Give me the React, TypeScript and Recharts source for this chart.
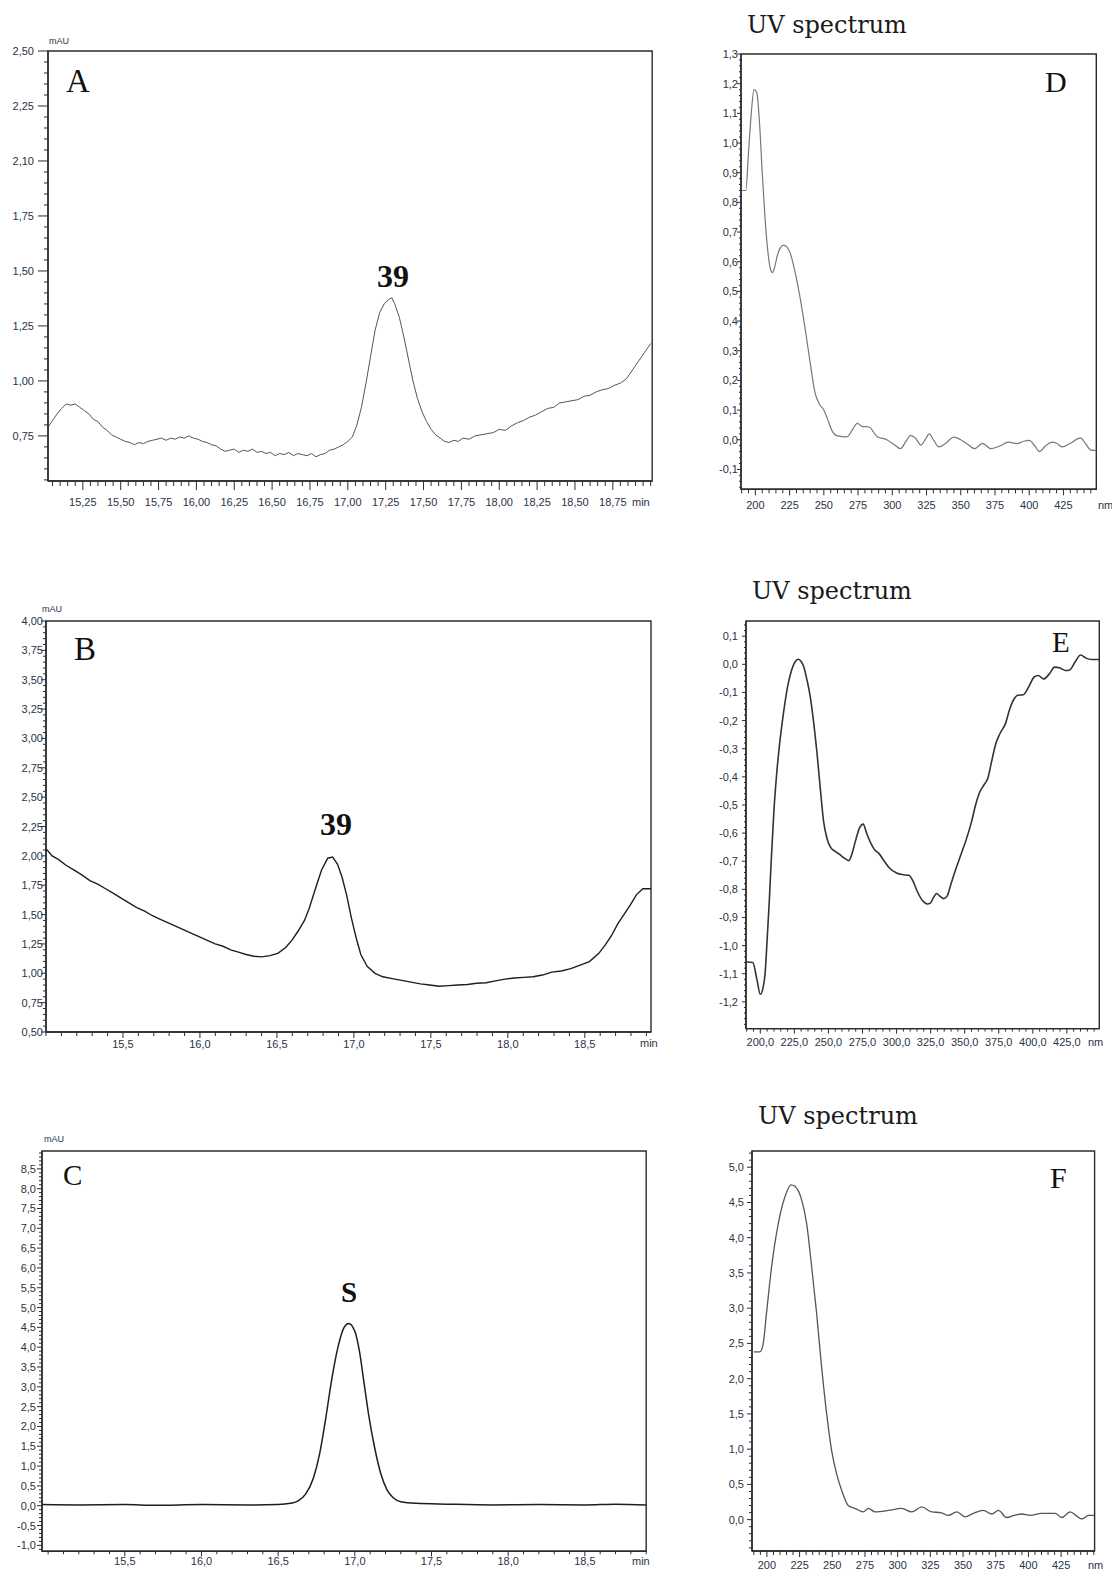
import React from 'react';
import { LineChart, Line, XAxis, YAxis, ReferenceArea } from 'recharts';

// chromatogram A: [time (min), mAU]
const chromA: [number, number][] = [
  [15.02, 0.79], [15.05, 0.82], [15.08, 0.85], [15.11, 0.875], [15.14, 0.895], [15.17, 0.89], [15.2, 0.895],
  [15.23, 0.88], [15.26, 0.865], [15.29, 0.85], [15.32, 0.825], [15.35, 0.815], [15.38, 0.79], [15.41, 0.775],
  [15.44, 0.755], [15.47, 0.745], [15.5, 0.735], [15.53, 0.725], [15.56, 0.72], [15.59, 0.71], [15.62, 0.72],
  [15.65, 0.715], [15.68, 0.725], [15.71, 0.73], [15.74, 0.735], [15.77, 0.74], [15.8, 0.73], [15.83, 0.74],
  [15.86, 0.735], [15.89, 0.745], [15.92, 0.74], [15.95, 0.75], [15.98, 0.74], [16.01, 0.735], [16.04, 0.725],
  [16.07, 0.72], [16.1, 0.71], [16.13, 0.705], [16.16, 0.69], [16.19, 0.68], [16.22, 0.685], [16.25, 0.69],
  [16.28, 0.675], [16.31, 0.685], [16.34, 0.68], [16.37, 0.69], [16.4, 0.675], [16.43, 0.68], [16.46, 0.67],
  [16.49, 0.675], [16.52, 0.66], [16.55, 0.67], [16.58, 0.665], [16.61, 0.675], [16.64, 0.66], [16.67, 0.67],
  [16.7, 0.665], [16.73, 0.66], [16.76, 0.67], [16.79, 0.655], [16.82, 0.665], [16.85, 0.67], [16.88, 0.685],
  [16.91, 0.69], [16.94, 0.7], [16.97, 0.71], [17.0, 0.725], [17.03, 0.745], [17.06, 0.8], [17.09, 0.88],
  [17.12, 0.99], [17.15, 1.11], [17.18, 1.23], [17.21, 1.31], [17.24, 1.35], [17.27, 1.37], [17.29, 1.378],
  [17.31, 1.35], [17.34, 1.29], [17.37, 1.2], [17.4, 1.1], [17.43, 1.0], [17.46, 0.92], [17.49, 0.86],
  [17.52, 0.815], [17.55, 0.78], [17.58, 0.755], [17.61, 0.74], [17.64, 0.725], [17.67, 0.72], [17.7, 0.73],
  [17.73, 0.725], [17.76, 0.74], [17.8, 0.735], [17.84, 0.75], [17.88, 0.755], [17.92, 0.76], [17.96, 0.765],
  [18.0, 0.78], [18.04, 0.775], [18.08, 0.795], [18.12, 0.81], [18.16, 0.82], [18.2, 0.835], [18.24, 0.845],
  [18.28, 0.86], [18.32, 0.875], [18.36, 0.88], [18.4, 0.9], [18.44, 0.905], [18.48, 0.91], [18.52, 0.915],
  [18.56, 0.93], [18.6, 0.935], [18.64, 0.95], [18.68, 0.96], [18.72, 0.965], [18.76, 0.98], [18.8, 0.99],
  [18.84, 1.01], [18.88, 1.05], [18.92, 1.09], [18.96, 1.13], [19.0, 1.17],
];

const chromB: [number, number][] = [
  [15.0, 2.06], [15.04, 2.0], [15.08, 1.97], [15.13, 1.92], [15.18, 1.88], [15.23, 1.84], [15.285, 1.79],
  [15.336, 1.76], [15.387, 1.72], [15.438, 1.68], [15.488, 1.64], [15.539, 1.6], [15.59, 1.56], [15.641, 1.53],
  [15.692, 1.49], [15.743, 1.46], [15.794, 1.43], [15.845, 1.4], [15.895, 1.37], [15.946, 1.34], [15.997, 1.31],
  [16.048, 1.28], [16.099, 1.25], [16.15, 1.23], [16.2, 1.2], [16.25, 1.18], [16.3, 1.16], [16.35, 1.145],
  [16.4, 1.14], [16.455, 1.15], [16.506, 1.17], [16.557, 1.22], [16.597, 1.28], [16.638, 1.36], [16.679, 1.45],
  [16.709, 1.55], [16.75, 1.72], [16.79, 1.88], [16.83, 1.98], [16.862, 1.99], [16.893, 1.93], [16.923, 1.82],
  [16.954, 1.66], [16.984, 1.47], [17.015, 1.3], [17.045, 1.16], [17.086, 1.06], [17.137, 1.0], [17.188, 0.97],
  [17.249, 0.955], [17.31, 0.94], [17.371, 0.925], [17.432, 0.91], [17.493, 0.9], [17.554, 0.89], [17.615, 0.895],
  [17.676, 0.9], [17.737, 0.905], [17.798, 0.915], [17.859, 0.92], [17.92, 0.935], [17.981, 0.95], [18.042, 0.96],
  [18.103, 0.965], [18.164, 0.97], [18.225, 0.985], [18.286, 1.01], [18.347, 1.02], [18.409, 1.04], [18.47, 1.07],
  [18.53, 1.1], [18.591, 1.17], [18.632, 1.24], [18.673, 1.32], [18.714, 1.42], [18.754, 1.5], [18.795, 1.58],
  [18.836, 1.67], [18.877, 1.72], [18.93, 1.72],
];

const chromC: [number, number][] = [
  [14.96, 0.03], [15.2, 0.02], [15.5, 0.03], [15.7, 0.01], [16.0, 0.03], [16.3, 0.02], [16.5, 0.03],
  [16.58, 0.06], [16.63, 0.12], [16.68, 0.3], [16.73, 0.7], [16.77, 1.3], [16.81, 2.2], [16.85, 3.2],
  [16.89, 4.0], [16.93, 4.5], [16.96, 4.6], [17.0, 4.4], [17.03, 3.9], [17.06, 3.1], [17.09, 2.3],
  [17.13, 1.45], [17.17, 0.8], [17.21, 0.4], [17.25, 0.2], [17.3, 0.1], [17.4, 0.06], [17.6, 0.04],
  [17.9, 0.02], [18.2, 0.03], [18.5, 0.02], [18.7, 0.04], [18.9, 0.02],
];

// UV spectra: [wavelength (nm), absorbance]
const specD: [number, number][] = [
  [190, 0.84], [193, 0.84], [195, 0.97], [197, 1.1], [199, 1.18], [201, 1.17], [203, 1.07], [205, 0.9],
  [207, 0.75], [209, 0.64], [211, 0.575], [212.5, 0.563], [214, 0.58], [216, 0.62], [218, 0.645],
  [220.5, 0.656], [223, 0.65], [225.5, 0.628], [229, 0.565], [233, 0.47], [236.5, 0.37], [240, 0.26],
  [243.5, 0.16], [246.5, 0.122], [250, 0.1], [252.5, 0.072], [256, 0.03], [260, 0.013], [267, 0.01],
  [271, 0.035], [274.5, 0.055], [278, 0.045], [283, 0.043], [289, 0.01], [296, 0.0], [301, -0.015],
  [306, -0.03], [310, -0.005], [313.5, 0.015], [317, 0.005], [321, -0.018], [324, 0.0], [327, 0.02],
  [330, 0.0], [334, -0.024], [339, -0.012], [345, 0.009], [350, 0.0], [355, -0.015], [360, -0.03],
  [366, -0.012], [372, -0.03], [378, -0.022], [385, -0.008], [391, -0.013], [396, -0.005], [400, -0.002],
  [404, -0.02], [407.5, -0.04], [412, -0.02], [417, -0.008], [420, -0.012], [424, -0.024], [430, -0.012],
  [437.5, 0.006], [441, -0.012], [445, -0.035], [449.5, -0.037],
];

const specE: [number, number][] = [
  [190, -1.058], [194.5, -1.06], [197.5, -1.12], [200, -1.173], [202, -1.15], [203.5, -1.1], [205, -0.98],
  [206.5, -0.85], [208, -0.7], [210, -0.52], [212, -0.39], [214, -0.29], [216, -0.21], [218, -0.14],
  [220, -0.08], [223, -0.02], [226, 0.012], [228, 0.018], [230, 0.01], [232, -0.01], [234, -0.05],
  [236.5, -0.11], [239, -0.2], [241.5, -0.31], [244, -0.44], [246.5, -0.56], [249, -0.62], [251.5, -0.65],
  [255, -0.665], [258, -0.675], [262, -0.69], [265, -0.698], [267.5, -0.67], [270, -0.625], [273, -0.58],
  [275.5, -0.568], [278, -0.6], [281, -0.635], [284, -0.66], [287, -0.672], [291, -0.7], [295, -0.725],
  [300, -0.742], [305, -0.748], [309, -0.75], [312, -0.77], [315, -0.805], [319, -0.84], [322.5, -0.852],
  [325, -0.848], [327, -0.83], [329.5, -0.815], [332, -0.825], [334.5, -0.833], [337, -0.825], [340, -0.78],
  [343, -0.735], [347, -0.68], [351, -0.625], [355, -0.56], [358, -0.5], [361, -0.455], [364, -0.43],
  [367, -0.405], [370, -0.34], [373, -0.28], [376, -0.245], [380, -0.21], [383, -0.16], [386, -0.125],
  [389, -0.11], [393, -0.108], [397, -0.08], [401, -0.045], [404, -0.04], [408, -0.052], [412, -0.035],
  [416, -0.01], [420, -0.013], [424, -0.022], [427, -0.02], [431, 0.008], [435, 0.033], [439, 0.022],
  [443, 0.017], [449, 0.017],
];

const specF: [number, number][] = [
  [190, 2.38], [194.6, 2.38], [197, 2.48], [199.7, 2.93], [203.6, 3.59], [208.7, 4.2], [213.8, 4.58],
  [218.4, 4.75], [221.4, 4.73], [226.5, 4.54], [230.4, 4.2], [234.2, 3.59], [238, 2.93], [241.8, 2.17],
  [245.7, 1.5], [249.5, 0.98], [253.3, 0.65], [257.1, 0.42], [262.2, 0.2], [267.3, 0.16], [273.7, 0.11],
  [277.6, 0.16], [282.7, 0.11], [292.9, 0.13], [303, 0.16], [310.7, 0.11], [318.4, 0.18], [326, 0.11],
  [333, 0.1], [338.8, 0.06], [345.2, 0.11], [351.5, 0.04], [358, 0.09], [365.6, 0.13], [372, 0.08],
  [377, 0.13], [383.4, 0.03], [389, 0.06], [394.9, 0.08], [401.3, 0.06], [410, 0.09], [420.4, 0.09],
  [425.5, 0.03], [431.9, 0.11], [437, 0.05], [440.8, 0.01], [446, 0.06], [450.6, 0.06],
];

// tick values and labels
const xTicksA = [15.25, 15.5, 15.75, 16.0, 16.25, 16.5, 16.75, 17.0, 17.25, 17.5, 17.75, 18.0, 18.25, 18.5, 18.75];
const xLabelsA = ['15,25', '15,50', '15,75', '16,00', '16,25', '16,50', '16,75', '17,00', '17,25', '17,50', '17,75', '18,00', '18,25', '18,50', '18,75'];
const yTicksA = [0.75, 1.0, 1.25, 1.5, 1.75, 2.0, 2.25, 2.5];
const yLabelsA = ['0,75', '1,00', '1,25', '1,50', '1,75', '2,10', '2,25', '2,50'];

const xTicksBC = [15.5, 16.0, 16.5, 17.0, 17.5, 18.0, 18.5];
const xLabelsBC = ['15,5', '16,0', '16,5', '17,0', '17,5', '18,0', '18,5'];
const yTicksB = [0.5, 0.75, 1.0, 1.25, 1.5, 1.75, 2.0, 2.25, 2.5, 2.75, 3.0, 3.25, 3.5, 3.75, 4.0];
const yLabelsB = ['0,50', '0,75', '1,00', '1,25', '1,50', '1,75', '2,00', '2,25', '2,50', '2,75', '3,00', '3,25', '3,50', '3,75', '4,00'];
const yTicksC = [-1.0, -0.5, 0, 0.5, 1.0, 1.5, 2.0, 2.5, 3.0, 3.5, 4.0, 4.5, 5.0, 5.5, 6.0, 6.5, 7.0, 7.5, 8.0, 8.5];
const yLabelsC = ['-1,0', '-0,5', '0,0', '0,5', '1,0', '1,5', '2,0', '2,5', '3,0', '3,5', '4,0', '4,5', '5,0', '5,5', '6,0', '6,5', '7,0', '7,5', '8,0', '8,5'];

const xTicksNm = [200, 225, 250, 275, 300, 325, 350, 375, 400, 425];
const xLabelsNm = ['200', '225', '250', '275', '300', '325', '350', '375', '400', '425'];
const xLabelsE = ['200,0', '225,0', '250,0', '275,0', '300,0', '325,0', '350,0', '375,0', '400,0', '425,0'];
const yTicksD = [-0.1, 0, 0.1, 0.2, 0.3, 0.4, 0.5, 0.6, 0.7, 0.8, 0.9, 1.0, 1.1, 1.2, 1.3];
const yLabelsD = ['-0,1', '0,0', '0,1', '0,2', '0,3', '0,4', '0,5', '0,6', '0,7', '0,8', '0,9', '1,0', '1,1', '1,2', '1,3'];
const yTicksE = [-1.2, -1.1, -1.0, -0.9, -0.8, -0.7, -0.6, -0.5, -0.4, -0.3, -0.2, -0.1, 0, 0.1];
const yLabelsE = ['-1,2', '-1,1', '-1,0', '-0,9', '-0,8', '-0,7', '-0,6', '-0,5', '-0,4', '-0,3', '-0,2', '-0,1', '0,0', '0,1'];
const yTicksF = [0, 0.5, 1.0, 1.5, 2.0, 2.5, 3.0, 3.5, 4.0, 4.5, 5.0];
const yLabelsF = ['0,0', '0,5', '1,0', '1,5', '2,0', '2,5', '3,0', '3,5', '4,0', '4,5', '5,0'];

const FRAME = '#2b2b2b';
const LABEL = '#2a3347';
const SANS = '"Liberation Sans", Arial, sans-serif';
const SERIF = '"Liberation Serif", "Times New Roman", serif';
const TITLE = '"DejaVu Serif", serif';

type PanelProps = {
  frame: [number, number, number, number];
  xDomain: [number, number];
  yDomain: [number, number];
  xTicks: number[];
  xLabels: string[];
  xMinor: number;
  yTicks: number[];
  yLabels: string[];
  yMinor: number;
  points: [number, number][];
  color: string;
  width: number;
  curve: 'linear' | 'monotone';
  xLabelDy: number;
  yLabelGap: number;
  xTickLen: [number, number];
  yTickLen: [number, number];
};

function tickGrid(domain: [number, number], step: number, major: number[]) {
  const out: number[] = [];
  const i0 = Math.ceil(domain[0] / step - 1e-6);
  const i1 = Math.floor(domain[1] / step + 1e-6);
  for (let i = i0; i <= i1; i++) out.push(Number((i * step).toFixed(6)));
  major.forEach((m) => {
    if (!out.some((v) => Math.abs(v - m) < 1e-6)) out.push(m);
  });
  return out.sort((a, b) => a - b);
}

const majorIndex = (ticks: number[], v: number) => ticks.findIndex((t) => Math.abs(t - v) < 1e-6);

function Panel(p: PanelProps) {
  const PL = 60;
  const PT = 10;
  const PR = 20;
  const PB = 36;
  const [x0, y0, x1, y1] = p.frame;
  const w = x1 - x0 + PL + PR;
  const h = y1 - y0 + PT + PB;
  const data = p.points.map(([x, y]) => ({ x, y }));

  const renderX = (props: any) => {
    const { x, y, payload } = props;
    const i = majorIndex(p.xTicks, payload.value);
    return (
      <g>
        <line x1={x} x2={x} y1={y} y2={y + (i >= 0 ? p.xTickLen[0] : p.xTickLen[1])} stroke={FRAME} strokeWidth={1} />
        {i >= 0 && (
          <text x={x} y={y + p.xLabelDy + 4} textAnchor="middle" fontSize={11} fontFamily={SANS} fill={LABEL}>
            {p.xLabels[i]}
          </text>
        )}
      </g>
    );
  };

  const renderY = (props: any) => {
    const { x, y, payload } = props;
    const i = majorIndex(p.yTicks, payload.value);
    return (
      <g>
        <line x1={x} x2={x - (i >= 0 ? p.yTickLen[0] : p.yTickLen[1])} y1={y} y2={y} stroke={FRAME} strokeWidth={1} />
        {i >= 0 && (
          <text x={x - p.yLabelGap} y={y + 4} textAnchor="end" fontSize={11} fontFamily={SANS} fill={LABEL}>
            {p.yLabels[i]}
          </text>
        )}
      </g>
    );
  };

  return (
    <div style={{ position: 'absolute', left: x0 - PL, top: y0 - PT }}>
      <LineChart width={w} height={h} data={data} margin={{ top: PT, right: PR, left: 0, bottom: 0 }}>
        <XAxis
          type="number"
          dataKey="x"
          domain={p.xDomain}
          allowDataOverflow
          ticks={tickGrid(p.xDomain, p.xMinor, p.xTicks)}
          interval={0}
          height={PB}
          tickSize={0}
          tickMargin={0}
          tickLine={false}
          axisLine={{ stroke: FRAME, strokeWidth: 1.4 }}
          tick={renderX}
        />
        <YAxis
          type="number"
          domain={p.yDomain}
          allowDataOverflow
          ticks={tickGrid(p.yDomain, p.yMinor, p.yTicks)}
          interval={0}
          width={PL}
          tickSize={0}
          tickMargin={0}
          tickLine={false}
          axisLine={{ stroke: FRAME, strokeWidth: 1.4 }}
          tick={renderY}
        />
        <ReferenceArea
          x1={p.xDomain[0]}
          x2={p.xDomain[1]}
          y1={p.yDomain[0]}
          y2={p.yDomain[1]}
          fill="none"
          fillOpacity={0}
          stroke={FRAME}
          strokeWidth={1.4}
        />
        <Line
          type={p.curve}
          dataKey="y"
          stroke={p.color}
          strokeWidth={p.width}
          dot={false}
          isAnimationActive={false}
        />
      </LineChart>
    </div>
  );
}

export default function App() {
  const small = { fontFamily: SANS, fontSize: 11, fill: LABEL };
  const tiny = { fontFamily: SANS, fontSize: 9, fill: LABEL };
  return (
    <div style={{ position: 'absolute', left: 0, top: 0, width: 1112, height: 1571, background: '#fff', overflow: 'hidden' }}>
      <Panel
        frame={[47.6, 50.7, 651.8, 480.7]}
        xDomain={[15.02, 19.01]}
        yDomain={[0.545, 2.5]}
        xTicks={xTicksA}
        xLabels={xLabelsA}
        xMinor={0.05}
        yTicks={yTicksA}
        yLabels={yLabelsA}
        yMinor={0.05}
        points={chromA}
        color="#555"
        width={1}
        curve="linear"
        xLabelDy={21}
        yLabelGap={14}
        xTickLen={[9, 5]}
        yTickLen={[10, 4]}
      />
      <Panel
        frame={[740.7, 54, 1096, 489.3]}
        xDomain={[189.5, 449]}
        yDomain={[-0.167, 1.3]}
        xTicks={xTicksNm}
        xLabels={xLabelsNm}
        xMinor={5}
        yTicks={yTicksD}
        yLabels={yLabelsD}
        yMinor={0.02}
        points={specD}
        color="#777"
        width={1.2}
        curve="monotone"
        xLabelDy={16}
        yLabelGap={3}
        xTickLen={[6, 4]}
        yTickLen={[4, 2]}
      />
      <Panel
        frame={[45.5, 620.7, 650.5, 1031.7]}
        xDomain={[15.0, 18.93]}
        yDomain={[0.5, 4.0]}
        xTicks={xTicksBC}
        xLabels={xLabelsBC}
        xMinor={0.1}
        yTicks={yTicksB}
        yLabels={yLabelsB}
        yMinor={0.05}
        points={chromB}
        color="#1e1e1e"
        width={1.4}
        curve="linear"
        xLabelDy={12}
        yLabelGap={3}
        xTickLen={[6, 4]}
        yTickLen={[5, 3]}
      />
      <Panel
        frame={[745.7, 620.7, 1099, 1028.3]}
        xDomain={[189.5, 448.8]}
        yDomain={[-1.295, 0.154]}
        xTicks={xTicksNm}
        xLabels={xLabelsE}
        xMinor={5}
        yTicks={yTicksE}
        yLabels={yLabelsE}
        yMinor={0.02}
        points={specE}
        color="#333"
        width={1.6}
        curve="monotone"
        xLabelDy={13}
        yLabelGap={8}
        xTickLen={[5, 3]}
        yTickLen={[4, 2]}
      />
      <Panel
        frame={[42.1, 1150.7, 646.3, 1551]}
        xDomain={[14.96, 18.9]}
        yDomain={[-1.15, 8.95]}
        xTicks={xTicksBC}
        xLabels={xLabelsBC}
        xMinor={0.1}
        yTicks={yTicksC}
        yLabels={yLabelsC}
        yMinor={0.1}
        points={chromC}
        color="#1e1e1e"
        width={1.5}
        curve="monotone"
        xLabelDy={10}
        yLabelGap={6}
        xTickLen={[5, 3]}
        yTickLen={[5, 3]}
      />
      <Panel
        frame={[751.7, 1150.7, 1094.3, 1550.7]}
        xDomain={[188.6, 450.6]}
        yDomain={[-0.445, 5.23]}
        xTicks={xTicksNm}
        xLabels={xLabelsNm}
        xMinor={5}
        yTicks={yTicksF}
        yLabels={yLabelsF}
        yMinor={0.1}
        points={specF}
        color="#555"
        width={1.3}
        curve="monotone"
        xLabelDy={14}
        yLabelGap={8}
        xTickLen={[6, 4]}
        yTickLen={[5, 3]}
      />
      <svg width={1112} height={1571} style={{ position: 'absolute', left: 0, top: 0, pointerEvents: 'none' }}>
        {/* panel A */}
        <text x={49} y={43.5} {...tiny}>mAU</text>
        <text x={66} y={91.5} fontFamily={SERIF} fontSize={33} fill="#111">A</text>
        <text x={377} y={287} fontFamily={SERIF} fontSize={32} fontWeight="bold" fill="#111">39</text>
        <text x={632} y={506} {...small}>min</text>
        {/* panel D */}
        <text x={747} y={33} fontFamily={TITLE} fontSize={24} fill="#1a1a1a">UV spectrum</text>
        <text x={1045} y={91.5} fontFamily={SERIF} fontSize={30} fill="#111">D</text>
        <text x={1098} y={509} {...small}>nm</text>
        {/* panel B */}
        <text x={42} y={612} {...tiny}>mAU</text>
        <text x={74} y={660} fontFamily={SERIF} fontSize={33} fill="#111">B</text>
        <text x={320} y={835} fontFamily={SERIF} fontSize={32} fontWeight="bold" fill="#111">39</text>
        <text x={640} y={1047} {...small}>min</text>
        {/* panel E */}
        <text x={752} y={599} fontFamily={TITLE} fontSize={24} fill="#1a1a1a">UV spectrum</text>
        <text x={1052} y={651.5} fontFamily={SERIF} fontSize={29} fill="#111">E</text>
        <text x={1088} y={1045.5} {...small}>nm</text>
        {/* panel C */}
        <text x={44} y={1141.5} {...tiny}>mAU</text>
        <text x={63} y={1185} fontFamily={SERIF} fontSize={29} fill="#111">C</text>
        <text x={341} y={1301.5} fontFamily={SERIF} fontSize={29} fontWeight="bold" fill="#111">S</text>
        <text x={632} y={1564.5} {...small}>min</text>
        {/* panel F */}
        <text x={758} y={1124} fontFamily={TITLE} fontSize={24} fill="#1a1a1a">UV spectrum</text>
        <text x={1050} y={1188} fontFamily={SERIF} fontSize={30} fill="#111">F</text>
        <text x={1088} y={1569} {...small}>nm</text>
      </svg>
    </div>
  );
}
